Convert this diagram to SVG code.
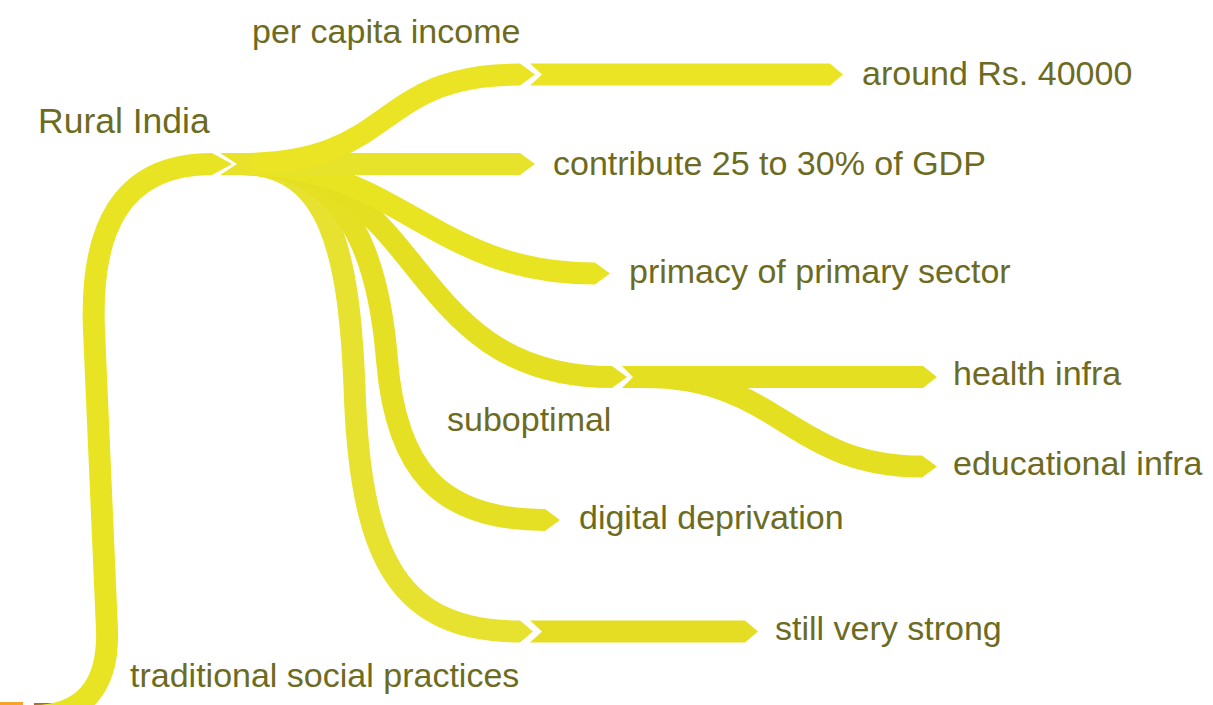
<svg xmlns="http://www.w3.org/2000/svg" width="1213" height="705" viewBox="0 0 1213 705">
<style>
.band{fill:none;stroke-width:22;stroke-linecap:butt}
.t{font-family:"Liberation Sans",Arial,sans-serif;font-size:34px;fill:#6d6b1f}
</style>
<rect width="1213" height="705" fill="#ffffff"/>
<g id="connectors">
  <rect x="0" y="702" width="23" height="3" fill="#f4a42a"/>
  <rect x="34" y="703" width="28" height="2" fill="#a5692a"/>
  <path class="band" stroke="#e8e423" d="M 34 716 C 80 716 109 690 107 630 L 94 330 C 90 230 120 164 212 164"/>
  <polygon fill="#e8e423" points="212,153 232,164 212,175"/>
  <path class="band" stroke="#e7e230" d="M 240 164 C 330 164 350 250 355 400 C 362 560 400 631.5 520 631.5"/>
  <polygon fill="#e7e230" points="520,620.5 533,631.5 520,642.5"/>
  <path class="band" stroke="#e6e024" d="M 240 164 C 345 164 378 250 387 360 C 396 470 440 520 545 520"/>
  <polygon fill="#e6e024" points="545,509 560,520 545,531"/>
  <path class="band" stroke="#e5df22" d="M 240 164 C 430 164 400 377 612 377"/>
  <polygon fill="#e5df22" points="612,366 627,377 612,388"/>
  <path class="band" stroke="#e9e421" d="M 240 164 C 400 164 430 273.5 595 273.5"/>
  <polygon fill="#e9e421" points="595,262.5 610,273.5 595,284.5"/>
  <path class="band" stroke="#e7e22a" d="M 240 164 L 520 164"/>
  <polygon fill="#e7e22a" points="520,153 535,164 520,175"/>
  <path class="band" stroke="#ebe425" d="M 240 164 C 400 164 370 74.5 520 74.5"/>
  <polygon fill="#ebe425" points="520,63.5 535,74.5 520,85.5"/>
  <polygon fill="#e8e22a" points="220,153 250,153 250,175 220,175 237,164"/>
  <polygon fill="#ebe425" points="530,63.5 830,63.5 843,74.5 830,85.5 530,85.5 542,74.5"/>
  <polygon fill="#e5df22" points="622,366 650,366 650,388 622,388 633,377"/>
  <path class="band" stroke="#e5df22" d="M 645 377 L 923 377"/>
  <polygon fill="#e5df22" points="923,366 937,377 923,388"/>
  <path class="band" stroke="#e5df22" d="M 645 377 C 780 377 790 466.5 922 466.5"/>
  <polygon fill="#e5df22" points="922,455.5 937,466.5 922,477.5"/>
  <polygon fill="#e4dd24" points="530,620.5 745,620.5 758,631.5 745,642.5 530,642.5 542,631.5"/>
</g>
<g id="node-rural-india"><text class="t" x="38" y="133" style="font-size:35.5px">Rural India</text></g>
<g id="node-per-capita"><text class="t" x="252" y="43">per capita income</text></g>
<g id="node-around"><text class="t" x="862" y="85">around Rs. 40000</text></g>
<g id="node-contribute"><text class="t" x="553" y="175">contribute 25 to 30% of GDP</text></g>
<g id="node-primacy"><text class="t" x="629" y="283">primacy of primary sector</text></g>
<g id="node-suboptimal"><text class="t" x="447" y="431">suboptimal</text></g>
<g id="node-health"><text class="t" x="953" y="385">health infra</text></g>
<g id="node-educational"><text class="t" x="953" y="475">educational infra</text></g>
<g id="node-digital"><text class="t" x="579" y="529">digital deprivation</text></g>
<g id="node-traditional"><text class="t" x="130" y="687">traditional social practices</text></g>
<g id="node-still"><text class="t" x="775" y="640">still very strong</text></g>
</svg>
